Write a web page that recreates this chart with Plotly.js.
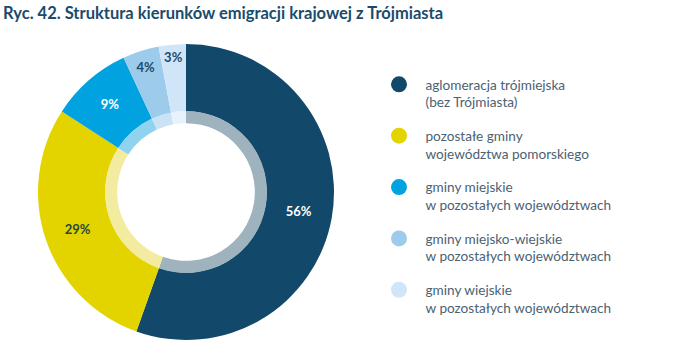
<!DOCTYPE html>
<html>
<head>
<meta charset="utf-8">
<script src="https://cdn.plot.ly/plotly-3.0.1.min.js"></script>
<style>html,body{margin:0;padding:0;background:#fff;}#chart{width:676px;height:351px;}</style>
</head>
<body>
<div id="chart"></div>
<script>
var categories = [
  "aglomeracja trójmiejska<br>(bez Trójmiasta)",
  "pozostałe gminy<br>województwa pomorskiego",
  "gminy miejskie<br>w pozostałych województwach",
  "gminy miejsko-wiejskie<br>w pozostałych województwach",
  "gminy wiejskie<br>w pozostałych województwach"
];
var values = [56, 29, 9, 4, 3];
var labelsText = ["56%", "29%", "9%", "4%", "3%"];
var outerColors = ["#12496a", "#e3d400", "#00a3df", "#9ccbec", "#d0e6f8"];
var innerColors = ["#9fb3bf", "#f3eca0", "#8fd3ef", "#c9e2f6", "#e7f2fc"];
var textColors = ["#ffffff", "#1f4a3c", "#ffffff", "#1d4a6b", "#1d4a6b"];

var W = 676, H = 351;
var cx = 186, cy = 192, rOut = 148, rIn = 81;

var traces = [];
traces.push({
  type: "pie",
  values: values,
  labels: categories,
  text: labelsText,
  textinfo: "text",
  textposition: "inside",
  insidetextorientation: "horizontal",
  sort: false,
  direction: "clockwise",
  rotation: 0,
  hole: 0.545,
  marker: {colors: outerColors, line: {width: 0}},
  textfont: {family: "Lato", size: 13, color: textColors, weight: "bold"},
  domain: {x: [(cx - rOut) / W, (cx + rOut) / W], y: [(H - cy - rOut) / H, (H - cy + rOut) / H]},
  showlegend: false,
  hoverinfo: "none"
});
traces.push({
  type: "pie",
  values: values,
  labels: categories,
  textinfo: "none",
  sort: false,
  direction: "clockwise",
  rotation: 0,
  hole: 0.85,
  marker: {colors: innerColors, line: {width: 0}},
  domain: {x: [(cx - rIn) / W, (cx + rIn) / W], y: [(H - cy - rIn) / H, (H - cy + rIn) / H]},
  showlegend: false,
  hoverinfo: "none"
});
for (var i = 0; i < categories.length; i++) {
  traces.push({
    type: "scatter",
    mode: "markers",
    x: [null], y: [null],
    name: categories[i],
    legendgroup: "g" + i,
    marker: {color: outerColors[i], size: 16, symbol: "circle"},
    showlegend: true,
    hoverinfo: "none"
  });
}

var layout = {
  width: W, height: H,
  margin: {l: 0, r: 0, t: 0, b: 0},
  paper_bgcolor: "#ffffff",
  plot_bgcolor: "rgba(0,0,0,0)",
  title: {
    text: "<b>Ryc. 42. Struktura kierunków emigracji krajowej z Trójmiasta</b>",
    x: 3 / W, xanchor: "left", xref: "container",
    y: 1 - 13 / H, yanchor: "middle", yref: "container",
    font: {family: "Lato", size: 16.5, color: "#1b4b6c"}
  },
  xaxis: {visible: false},
  yaxis: {visible: false},
  uniformtext: {mode: "show", minsize: 13},
  legend: {
    x: 372.5 / W, xanchor: "left",
    y: 1 - 69 / H, yanchor: "top",
    tracegroupgap: 13,
    itemwidth: 43,
    valign: "top",
    bgcolor: "rgba(0,0,0,0)",
    font: {family: "Lato", size: 13.6, color: "#4b6272"}
  },
  showlegend: true
};

Plotly.newPlot("chart", traces, layout, {displayModeBar: false, staticPlot: true});
</script>
</body>
</html>
